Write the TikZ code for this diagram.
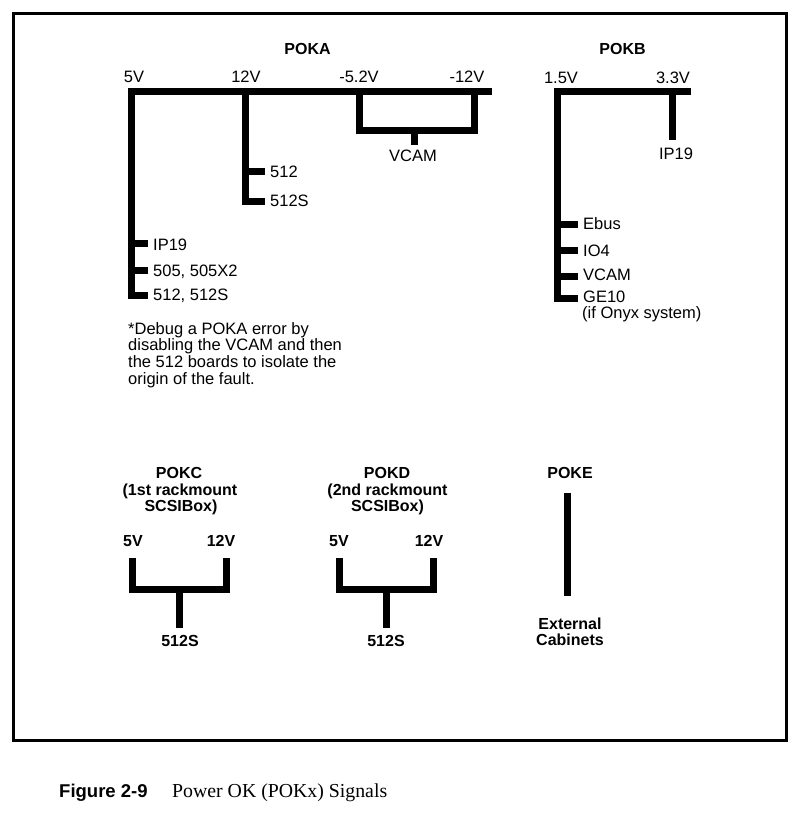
\documentclass[tikz,border=0pt]{standalone}
\usepackage{fontspec}
\setmainfont{Liberation Sans}
\newfontfamily\capserif{Liberation Serif}
\begin{document}
\begin{tikzpicture}[x=1pt,y=-1pt,
  bus/.style={line width=7pt, line cap=butt, line join=miter},
  lbl/.style={inner sep=0pt, anchor=base, font=\fontsize{16.5}{17}\selectfont},
  lbll/.style={lbl, anchor=base west},
  hd/.style={inner sep=0pt, anchor=base, font=\fontsize{16}{17}\selectfont\bfseries}]
\useasboundingbox (0,0) rectangle (803,813);
\fill[white] (0,0) rectangle (803,813);
\draw[line width=3pt] (13,14) rectangle (786,740);

% ---------------- POKA ----------------
\node[hd] (poka) at (307.5,54.3) {POKA};
\node[lbl] (a5v) at (134,83) {5V};
\node[lbl] (a12v) at (246,83) {12V};
\node[lbl] (a52v) at (359,83) {-5.2V};
\node[lbl] (am12v) at (467,83) {-12V};

\coordinate (aEnd) at (492,91.5);
\coordinate (a5top) at (131.5,91.5);
\coordinate (a5bot) at (131.5,295);
\coordinate (a12top) at (245.5,91.5);
\coordinate (a12bot) at (245.5,201.5);
\coordinate (a52top) at (359.5,91.5);
\coordinate (a52bot) at (359.5,130.5);
\coordinate (am12top) at (474,91.5);
\coordinate (am12bot) at (474,130.5);
\coordinate (vcamJ) at (414,130.5);
\coordinate (vcamE) at (414,145);

\draw[bus] (aEnd) -- (a5top) -- (a5bot) -- (148,295);
\draw[bus] (a12top) -- (a12bot) -- (265,201.5);
\draw[bus] (245.5,171.5) -- (265,171.5);
\draw[bus] (a52top) -- (a52bot) -- (am12bot) -- (am12top);
\draw[bus] (vcamJ) -- (vcamE);
\draw[bus] (131.5,243) -- (148,243);
\draw[bus] (131.5,270) -- (148,270);

\node[lbl] (avcam) at (413,161.7) {VCAM};
\node[lbll] (a512) at (270,178) {512};
\node[lbll] (a512s) at (270,206) {512S};
\node[lbll] (aip19) at (153,250) {IP19};
\node[lbll] (a505) at (153,276.5) {505, 505X2};
\node[lbll] (a512b) at (153,300.5) {512, 512S};

\node[lbll] (note1) at (128,334) {*Debug a POKA error by};
\node[lbll] (note2) at (128,350.8) {disabling the VCAM and then};
\node[lbll] (note3) at (128,367.5) {the 512 boards to isolate the};
\node[lbll] (note4) at (128,384) {origin of the fault.};

% ---------------- POKB ----------------
\node[hd] (pokb) at (622.5,55) {POKB};
\node[lbl] (b15v) at (561,84) {1.5V};
\node[lbl] (b33v) at (673,84) {3.3V};
\coordinate (bEnd) at (691,91.5);
\coordinate (b15top) at (557.5,91.5);
\coordinate (b15bot) at (557.5,298);
\coordinate (b33top) at (672.5,91.5);
\coordinate (b33bot) at (672.5,140);
\draw[bus] (bEnd) -- (b15top) -- (b15bot) -- (578,298);
\draw[bus] (b33top) -- (b33bot);
\draw[bus] (554,224) -- (578,224);
\draw[bus] (554,250) -- (578,250);
\draw[bus] (554,276) -- (578,276);
\node[lbl] (bip19) at (676,160) {IP19};
\node[lbll] (bebus) at (583,229) {Ebus};
\node[lbll] (bio4) at (583,256) {IO4};
\node[lbll] (bvcam) at (583,280.5) {VCAM};
\node[lbll] (bge10) at (583,302) {GE10};
\node[lbll] (bonyx) at (582,318.5) {(if Onyx system)};

% ---------------- POKC ----------------
\node[hd] (pokc) at (179,478) {POKC};
\node[hd] (pokc2) at (180,495) {(1st rackmount};
\node[hd] (pokc3) at (181,511) {SCSIBox)};
\node[hd] (c5v) at (133,546.7) {5V};
\node[hd] (c12v) at (221,546.7) {12V};
\coordinate (c5top) at (132.5,558);
\coordinate (c5bot) at (132.5,589);
\coordinate (c12top) at (226,558);
\coordinate (c12bot) at (226,589);
\coordinate (cJ) at (179,589);
\coordinate (cE) at (179,628);
\draw[bus] (c5top) -- (c5bot) -- (c12bot) -- (c12top);
\draw[bus] (cJ) -- (cE);
\node[hd] (c512s) at (180,646.5) {512S};

% ---------------- POKD ----------------
\node[hd] (pokd) at (387,478) {POKD};
\node[hd] (pokd2) at (387.5,495) {(2nd rackmount};
\node[hd] (pokd3) at (387.5,511) {SCSIBox)};
\node[hd] (d5v) at (339,546.7) {5V};
\node[hd] (d12v) at (429,546.7) {12V};
\coordinate (d5top) at (339.5,558);
\coordinate (d5bot) at (339.5,589);
\coordinate (d12top) at (433.5,558);
\coordinate (d12bot) at (433.5,589);
\coordinate (dJ) at (386,589);
\coordinate (dE) at (386,628);
\draw[bus] (d5top) -- (d5bot) -- (d12bot) -- (d12top);
\draw[bus] (dJ) -- (dE);
\node[hd] (d512s) at (386,646.5) {512S};

% ---------------- POKE ----------------
\node[hd] (poke) at (570,478) {POKE};
\coordinate (eTop) at (567,493);
\coordinate (eBot) at (567,596);
\draw[bus] (eTop) -- (eBot);
\node[hd] (eext) at (570,629.3) {External};
\node[hd] (ecab) at (570,645) {Cabinets};

% ---------------- Caption ----------------
\node[inner sep=0pt, anchor=base west, font=\fontsize{18.5}{20}\selectfont\bfseries] (figno) at (59,797) {Figure 2-9};
\node[inner sep=0pt, anchor=base west, font=\capserif\fontsize{19.8}{21}\selectfont] (captxt) at (172,797) {Power OK (POKx) Signals};
\end{tikzpicture}
\end{document}
